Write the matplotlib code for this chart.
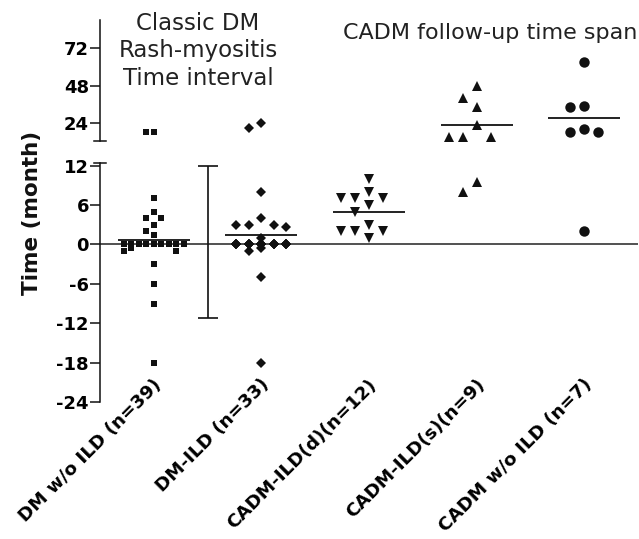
import numpy as np
import matplotlib
matplotlib.use("Agg")
import matplotlib.pyplot as plt
from matplotlib.transforms import ScaledTranslation

plt.rcParams['font.family'] = 'DejaVu Sans'

groups = ['DM w/o ILD (n=39)', 'DM-ILD (n=33)', 'CADM-ILD(d)(n=12)',
          'CADM-ILD(s)(n=9)', 'CADM w/o ILD (n=7)']

# time in months
dm_no_ild = [18, 18, 7, 5, 4, 4, 3, 2, 1.5,
             0, 0, 0, 0, 0, 0, 0, 0, 0, 0, 0, 0,
             0, 0, 0, 0, 0, 0, 0, 0, 0, 0, 0,
             -0.6, -1, -1, -3, -6, -9, -18]
dm_ild = [24, 21, 8, 4, 3, 3, 3, 2.6, 1,
          0, 0, 0, 0, 0, 0, 0, 0, 0, 0,
          0, 0, 0, 0, 0, 0, 0, 0, 0, 0,
          -0.6, -1, -5, -18]
cadm_ild_d = [10, 8, 7, 7, 7, 6, 5, 3, 2, 2, 2, 1]
cadm_ild_s = [48, 40, 34, 23, 15, 15, 15, 9.5, 8]
cadm_no_ild = [63, 35, 34, 20, 18, 18, 2]
all_data = [dm_no_ild, dm_ild, cadm_ild_d, cadm_ild_s, cadm_no_ild]

# classic DM rash-myositis interval bar
interval_low = -11.2
interval_high = 12

lo_ticks = [-24, -18, -12, -6, 0, 6, 12]
hi_ticks = [24, 48, 72]
lo_lim = (-24, 12.4)
hi_lim = (12.5, 90)

markers = [('s', 5), ('D', 5), ('v', 7), ('^', 7), ('o', 7.5)]
# step (px), min distance (px), max slots each side
swarm_par = [(7.5, 7, 4), (12.5, 10, 2), (14, 10, 2), (14, 12.5, 2), (14, 11, 2)]
ink = '#111111'


def swarm(ax, x0, vals, step, dist, kmax):
    slots = [0]
    for k in range(1, kmax + 1):
        slots += [-k, k]
    cx = ax.transData.transform((x0, 0))[0]
    pts = []
    for v in vals:
        py = ax.transData.transform((x0, v))[1]
        free = [k for k in slots
                if all(np.hypot(cx + k * step - qx, py - qy) >= dist for qx, qy in pts)]
        if free:
            k = free[0]
        else:
            k = min(slots, key=lambda s: sum(np.hypot(cx + s * step - qx, py - qy) < dist
                                             for qx, qy in pts))
        pts.append((cx + k * step, py))
    inv = ax.transData.inverted()
    return [inv.transform(p)[0] for p in pts]


fig = plt.figure(figsize=(6.39, 5.39), dpi=100)
ax_lo = fig.add_axes([100 / 639, 1 - 402 / 539, 538 / 639, 239 / 539])
ax_hi = fig.add_axes([100 / 639, 1 - 141 / 539, 538 / 639, 121 / 539])

for ax, lim, ticks in [(ax_lo, lo_lim, lo_ticks), (ax_hi, hi_lim, hi_ticks)]:
    ax.set_xlim(-0.5, 4.5)
    ax.set_ylim(*lim)
    ax.set_yticks(ticks)
    ax.set_yticklabels([str(t) for t in ticks], fontsize=13, fontweight='bold')
    ax.tick_params(axis='y', length=7, width=1.1, pad=1, color=ink)
    for s in ['top', 'right', 'bottom']:
        ax.spines[s].set_visible(False)
    ax.spines['left'].set_linewidth(1.1)
    ax.spines['left'].set_color(ink)
    ax.patch.set_alpha(0)

ax_hi.set_xticks([])

# break caps
ax_hi.plot([-0.011, 0.011], [0, 0], transform=ax_hi.transAxes, color=ink, lw=1.1, clip_on=False)
ax_lo.plot([-0.011, 0.011], [1, 1], transform=ax_lo.transAxes, color=ink, lw=1.1, clip_on=False)

ax_lo.axhline(0, color='#333333', lw=1.2, zorder=1)

for i, vals in enumerate(all_data):
    mk, ms = markers[i]
    step, dist, kmax = swarm_par[i]
    for ax, lim in [(ax_lo, lo_lim), (ax_hi, hi_lim)]:
        sub = [v for v in vals if lim[0] - 0.5 <= v <= lim[1]]
        if not sub:
            continue
        xs = swarm(ax, i, sub, step, dist, kmax)
        ax.plot(xs, sub, linestyle='none', marker=mk, ms=ms, color=ink,
                markeredgewidth=0, clip_on=False, zorder=3)
    m = np.mean(vals)
    ax = ax_hi if m > lo_lim[1] else ax_lo
    ax.hlines(m, i - 0.335, i + 0.335, color=ink, lw=1.3, zorder=4)

mid = (interval_low + interval_high) / 2
ax_lo.errorbar(0.5, mid, yerr=(interval_high - interval_low) / 2, fmt='none',
               ecolor=ink, elinewidth=1.2, capsize=7, capthick=1.2)

ax_lo.set_xticks(range(len(groups)))
ax_lo.set_xticklabels(groups, rotation=45, ha='right', va='top',
                      rotation_mode='anchor', fontsize=13.2, fontweight='bold')
ax_lo.tick_params(axis='x', length=0, pad=-19)
shift = ScaledTranslation(-0.01, 0, fig.dpi_scale_trans)
for lbl in ax_lo.get_xticklabels():
    lbl.set_transform(lbl.get_transform() + shift)

fig.text(198 / 639, 1 - 51 / 539, 'Classic DM\nRash-myositis\nTime interval',
         ha='center', va='center', fontsize=16.5, linespacing=1.25, color='#222222')
fig.text(490 / 639, 1 - 33 / 539, 'CADM follow-up time span',
         ha='center', va='center', fontsize=16, color='#222222')
fig.text(32 / 639, 1 - 213 / 539, 'Time (month)', rotation=90,
         ha='center', va='center', fontsize=15.5, fontweight='bold', color=ink)

fig.savefig('out.png', dpi=100)
